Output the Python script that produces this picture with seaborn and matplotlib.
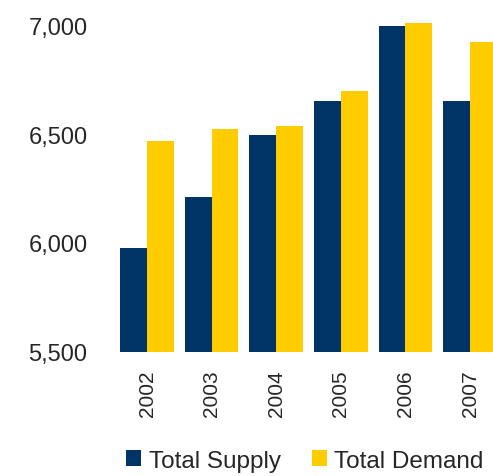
import matplotlib
matplotlib.use("Agg")
import matplotlib.pyplot as plt
import seaborn as sns
import pandas as pd
from matplotlib.patches import Patch
from matplotlib.ticker import FuncFormatter

years = ["2002", "2003", "2004", "2005", "2006", "2007"]
total_supply = [5976, 6210, 6495, 6651, 6995, 6651]
total_demand = [6467, 6522, 6536, 6697, 7009, 6922]
series_names = ["Total Supply", "Total Demand"]
colors = ["#003366", "#FFCC00"]
y_ticks = [5500, 6000, 6500, 7000]

df = pd.DataFrame({
    "year": years * 2,
    "value": total_supply + total_demand,
    "series": [series_names[0]] * len(years) + [series_names[1]] * len(years),
})

sns.set_theme(style="white")
plt.rcParams['font.family'] = ['Liberation Sans', 'DejaVu Sans']

fig = plt.figure(figsize=(4.93, 4.77), dpi=100)
ax = fig.add_axes([100 / 493, 0.2606, 393 / 493, 0.698])

sns.barplot(data=df, x="year", y="value", hue="series", palette=colors,
            width=0.83, ax=ax, saturation=1, legend=False, linewidth=0)

ax.set_ylim(5500, 7030)
ax.set_xlim(-0.728, 5.356)
ax.set_yticks(y_ticks)
ax.yaxis.set_major_formatter(FuncFormatter(lambda v, p: f"{int(v):,}"))
ax.tick_params(axis="y", labelsize=17, length=0, pad=9)
ax.tick_params(axis="x", labelsize=15, length=0, pad=13, labelrotation=90)
ax.set_xlabel("")
ax.set_ylabel("")
for s in ax.spines.values():
    s.set_visible(False)

handles = [Patch(facecolor=c, edgecolor="none") for c in colors]
fig.legend(handles, series_names, loc="center", bbox_to_anchor=(305 / 493, 0.032),
           ncol=2, frameon=False, fontsize=17.5, handlelength=0.62, handleheight=0.62,
           handletextpad=0.3, columnspacing=1.3, borderpad=0)

fig.savefig("out.png", dpi=100)
